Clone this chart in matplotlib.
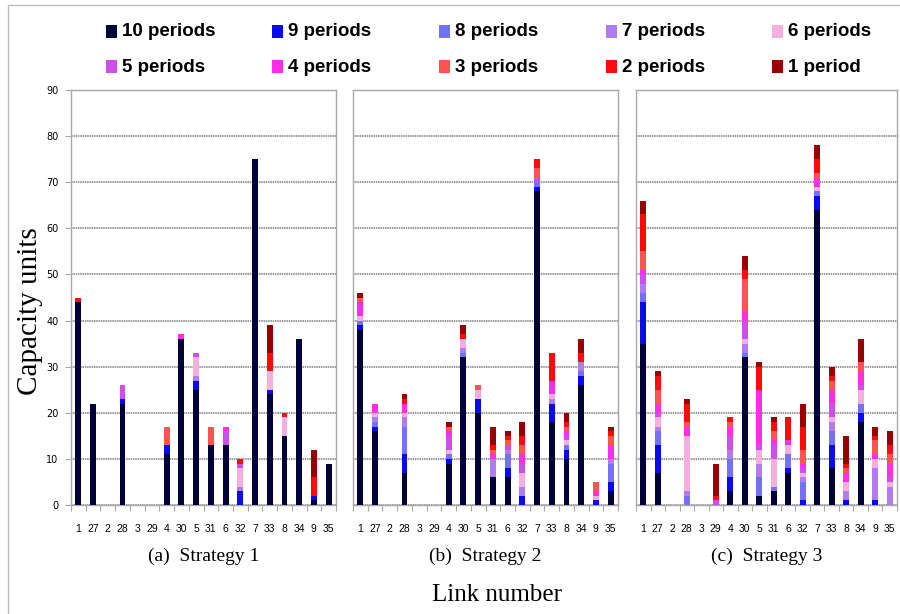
import numpy as np
import matplotlib
matplotlib.use("Agg")
import matplotlib.pyplot as plt
from matplotlib.patches import Rectangle

# link order on the x axis (same for all three strategies)
links = [1, 27, 2, 28, 3, 29, 4, 30, 5, 31, 6, 32, 7, 33, 8, 34, 9, 35]

period_labels = ["10 periods", "9 periods", "8 periods", "7 periods", "6 periods",
                 "5 periods", "4 periods", "3 periods", "2 periods", "1 period"]
period_colors = ["#00003A", "#0A0AEE", "#7272F2", "#B07CF0", "#F6AEDF",
                 "#CC4FEA", "#FF2EE6", "#FF5252", "#FF0A0A", "#990000"]

# rows: 10 periods ... 1 period, columns follow `links`
strategy1 = [
    [44, 22, 0, 22, 0, 0, 11, 36, 25, 13, 13, 0, 75, 24, 15, 36, 1, 9],
    [0, 0, 0, 1, 0, 0, 2, 0, 2, 0, 0, 3, 0, 1, 0, 0, 1, 0],
    [0, 0, 0, 0, 0, 0, 0, 0, 0, 0, 0, 0, 0, 0, 0, 0, 0, 0],
    [0, 0, 0, 0, 0, 0, 0, 0, 1, 0, 0, 1, 0, 0, 0, 0, 0, 0],
    [0, 0, 0, 0, 0, 0, 0, 0, 4, 0, 0, 4, 0, 4, 4, 0, 0, 0],
    [0, 0, 0, 3, 0, 0, 0, 0, 1, 0, 3, 1, 0, 0, 0, 0, 0, 0],
    [0, 0, 0, 0, 0, 0, 0, 1, 0, 0, 1, 0, 0, 0, 0, 0, 0, 0],
    [0, 0, 0, 0, 0, 0, 4, 0, 0, 4, 0, 0, 0, 0, 0, 0, 0, 0],
    [1, 0, 0, 0, 0, 0, 0, 0, 0, 0, 0, 1, 0, 4, 1, 0, 4, 0],
    [0, 0, 0, 0, 0, 0, 0, 0, 0, 0, 0, 0, 0, 6, 0, 0, 6, 0],
]
strategy2 = [
    [38, 16, 0, 7, 0, 0, 9, 32, 20, 6, 6, 0, 68, 18, 10, 26, 0, 3],
    [1, 1, 0, 4, 0, 0, 1, 0, 3, 0, 2, 2, 1, 4, 2, 2, 1, 2],
    [1, 1, 0, 6, 0, 0, 1, 1, 0, 0, 3, 0, 1, 0, 1, 1, 0, 4],
    [0, 1, 0, 2, 0, 0, 0, 1, 0, 4, 1, 2, 0, 1, 0, 2, 0, 1],
    [1, 1, 0, 1, 0, 0, 1, 2, 2, 0, 0, 3, 0, 1, 1, 0, 1, 0],
    [0, 0, 0, 0, 0, 0, 3, 0, 0, 0, 1, 2, 1, 0, 1, 0, 0, 0],
    [3, 2, 0, 2, 0, 0, 1, 0, 0, 1, 0, 2, 0, 3, 1, 0, 1, 3],
    [1, 0, 0, 0, 0, 0, 1, 0, 1, 1, 1, 2, 2, 0, 1, 0, 2, 2],
    [0, 0, 0, 1, 0, 0, 0, 1, 0, 1, 1, 2, 2, 6, 1, 2, 0, 1],
    [1, 0, 0, 1, 0, 0, 1, 2, 0, 4, 1, 3, 0, 0, 2, 3, 0, 1],
]
strategy3 = [
    [35, 7, 0, 0, 0, 0, 3, 32, 2, 3, 7, 0, 64, 8, 0, 18, 0, 0],
    [9, 6, 0, 0, 0, 0, 3, 0, 0, 0, 1, 1, 3, 5, 1, 2, 1, 0],
    [2, 3, 0, 2, 0, 0, 4, 1, 4, 1, 3, 4, 1, 3, 0, 2, 0, 0],
    [2, 1, 0, 1, 0, 0, 2, 2, 3, 0, 0, 1, 0, 2, 2, 0, 7, 4],
    [0, 2, 0, 12, 0, 0, 0, 1, 3, 6, 2, 1, 1, 1, 2, 3, 2, 1],
    [2, 1, 0, 0, 0, 1, 3, 4, 1, 3, 0, 1, 0, 3, 0, 1, 0, 1],
    [1, 2, 0, 2, 0, 0, 2, 2, 12, 1, 1, 1, 2, 3, 2, 3, 1, 3],
    [4, 3, 0, 1, 0, 0, 1, 7, 0, 2, 0, 3, 1, 2, 1, 2, 3, 2],
    [8, 3, 0, 4, 0, 1, 1, 2, 5, 2, 5, 5, 3, 1, 1, 0, 1, 2],
    [3, 1, 0, 1, 0, 7, 0, 3, 1, 1, 0, 5, 3, 2, 6, 5, 2, 3],
]

strategies = [strategy1, strategy2, strategy3]
titles = ["(a)  Strategy 1", "(b)  Strategy 2", "(c)  Strategy 3"]

serif = ["Liberation Serif", "DejaVu Serif"]
sans = ["Liberation Sans", "DejaVu Sans"]

W, H = 900, 614
fig = plt.figure(figsize=(W / 100, H / 100), dpi=100)

# light frame around the whole chart
fig.add_artist(Rectangle((8 / W, -0.1), 1.2, 1 - 5 / H + 0.1, transform=fig.transFigure,
                         fill=False, edgecolor="#BDBDBD", linewidth=1.0))

# panel boxes in pixels: (left, right)
panels = [(71, 336), (353, 618), (636, 897)]
top_px, bottom_px = 90, 505

x = np.arange(len(links))
for i, (data, (l, r)) in enumerate(zip(strategies, panels)):
    ax = fig.add_axes([l / W, 1 - bottom_px / H, (r - l) / W, (bottom_px - top_px) / H])
    bottom = np.zeros(len(links))
    for vals, col in zip(data, period_colors):
        vals = np.array(vals, dtype=float)
        ax.bar(x, vals, width=0.4, bottom=bottom, color=col, linewidth=0, zorder=3)
        bottom += vals

    ax.set_xlim(-0.5, len(links) - 0.5)
    ax.set_ylim(0, 90)
    ax.set_yticks(np.arange(0, 91, 10))
    ax.yaxis.grid(True, color="#7E7E7E", linewidth=1.1, linestyle=(0, (1, 0.5)), zorder=0)
    for s in ax.spines.values():
        s.set_color("#A8A8A8")
        s.set_linewidth(1.0)

    # tick marks between categories, labels at the centers
    ax.set_xticks(np.arange(-0.5, len(links), 1.0))
    ax.set_xticklabels([])
    ax.tick_params(axis="x", which="major", length=4, color="#A8A8A8", direction="out")
    ax.set_xticks(x, minor=True)
    ax.set_xticklabels([str(v) for v in links], minor=True, fontsize=7.5, family=sans)
    ax.tick_params(axis="x", which="minor", length=0, pad=14)

    if i == 0:
        ax.tick_params(axis="y", length=4, color="#A8A8A8", labelsize=7, pad=5)
    else:
        ax.tick_params(axis="y", length=0, labelleft=False)

    fig.text((l + r) / 2 / W, 1 - 556 / H, titles[i], ha="center", va="center",
             fontsize=14, family=serif)

fig.text(497 / W, 1 - 595 / H, "Link number", ha="center", va="center",
         fontsize=18, family=serif)
fig.text(30 / W, 1 - 311 / H, "Capacity units", ha="center", va="center",
         rotation=90, fontsize=21, family=serif)

# legend: 2 rows x 5 columns, placed by hand to match the column grid
col_x = [106, 272, 439, 606, 772]
row_y = [31.5, 66.5]
for k, (lab, col) in enumerate(zip(period_labels, period_colors)):
    cx, cy = col_x[k % 5], row_y[k // 5]
    fig.add_artist(Rectangle((cx / W, 1 - (cy + 6.5) / H), 11 / W, 13 / H,
                             transform=fig.transFigure, facecolor=col, edgecolor="none"))
    fig.text((cx + 16) / W, 1 - (cy + 0.5) / H, lab, ha="left", va="center",
             fontsize=13.5, fontweight="bold", family=sans)

fig.savefig("out.png", dpi=100, facecolor="white")
